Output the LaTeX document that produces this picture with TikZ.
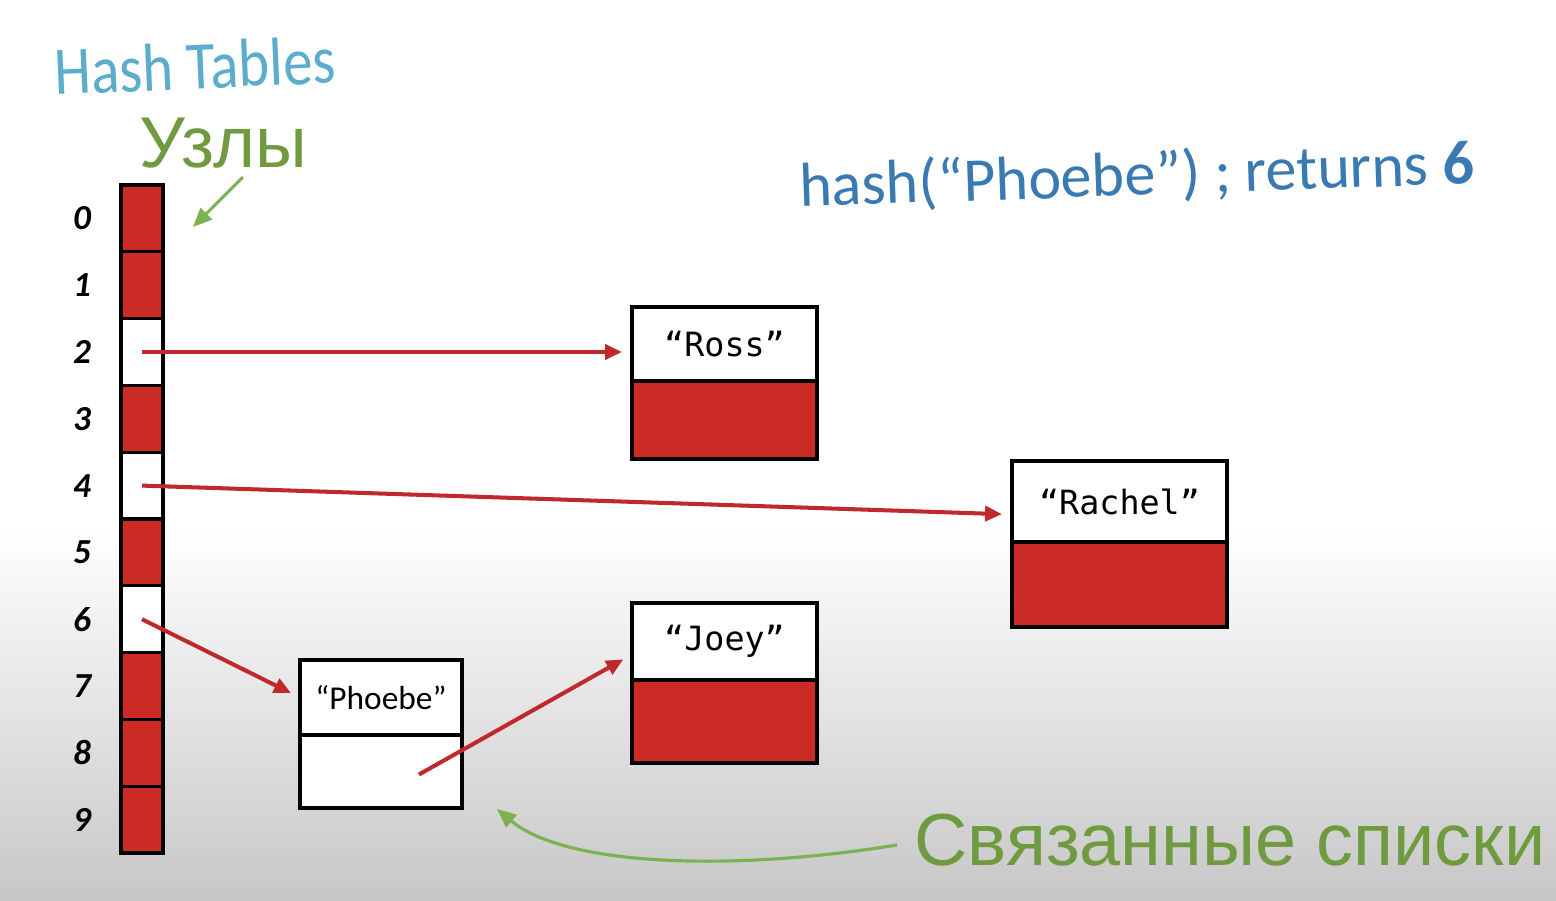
\documentclass[tikz,border=0pt]{standalone}
\usepackage{fontspec}
\setmainfont{Carlito}
\newfontfamily\arialf{Liberation Sans}
\newfontfamily\monof{DejaVu Sans Mono}
\newfontfamily\calf{Carlito}
\usetikzlibrary{arrows.meta,calc}
\definecolor{cellred}{RGB}{204,42,36}
\definecolor{arrred}{RGB}{192,40,44}
\definecolor{grn}{RGB}{112,154,64}
\definecolor{grnline}{RGB}{124,178,80}
\definecolor{titleblue}{RGB}{92,172,204}
\definecolor{codeblue}{RGB}{58,122,178}
\begin{document}
\begin{tikzpicture}[x=0.02cm,y=-0.02cm,
  cell/.style={draw=black,line width=1.9pt,minimum width=0.84cm,minimum height=1.336cm,inner sep=0pt,outer sep=0pt},
  idx/.style={font=\calf\bfseries\itshape\fontsize{20}{22}\selectfont,text=black},
  btop/.style={draw=black,fill=white,line width=2.1pt,inner sep=0pt,outer sep=0pt},
  bbot/.style={draw=black,fill=cellred,line width=2.1pt,inner sep=0pt,outer sep=0pt},
  mono/.style={font=\monof\fontsize{19}{22}\selectfont},
  redarr/.style={draw=arrred,line width=2.3pt,-{Triangle[length=0.34cm,width=0.3cm]},shorten >=0.2cm},
  grnarr/.style={draw=grnline,line width=1.8pt,-{Triangle[length=0.38cm,width=0.32cm]}},
  grntxt/.style={text=grn,inner sep=0pt}
]
\useasboundingbox (0,0) rectangle (1556,900);
\fill[white] (0,0) rectangle (1556,531);
\shade[top color=white,bottom color=black!22] (0,530) rectangle (1556,900);

% titles
\node[anchor=base west,rotate=2.5,text=titleblue,inner sep=0pt] (title) at (55,95)
  {\scalebox{0.97}[1.12]{\resizebox{5.8cm}{!}{\calf Hash Tables}}};
\node[anchor=base west,rotate=2,text=codeblue,inner sep=0pt] (code) at (800,207)
  {\resizebox{13.5cm}{!}{\calf hash(“Phoebe”) ; returns \textbf{6}}};

% hash table cells
\foreach \i/\c in {0/cellred,1/cellred,2/white,3/cellred,4/white,5/cellred,6/white,7/cellred,8/cellred,9/cellred}{
  \node[cell,fill=\c] (c\i) at (142,{218.4+66.8*\i}) {};
  \node[idx] (l\i) at (82,{218.4+66.8*\i}) {\i};
}

% list nodes
\node[btop,minimum width=3.7cm,minimum height=1.48cm,mono] (rossT) at (724.5,344) {“Ross”};
\node[bbot,minimum width=3.7cm,minimum height=1.56cm,anchor=north] (rossB) at (rossT.south) {};

\node[btop,minimum width=4.3cm,minimum height=1.62cm,mono] (rachT) at (1119.5,501.5) {“Rachel”};
\node[bbot,minimum width=4.3cm,minimum height=1.7cm,anchor=north] (rachB) at (rachT.south) {};

\node[btop,minimum width=3.7cm,minimum height=1.54cm,mono] (joeyT) at (724.5,641.5) {“Joey”};
\node[bbot,minimum width=3.7cm,minimum height=1.66cm,anchor=north] (joeyB) at (joeyT.south) {};

\node[btop,minimum width=3.24cm,minimum height=1.5cm,font=\calf\fontsize{19}{22}\selectfont] (phT) at (381,697.5) {“Phoebe”};
\node[btop,minimum width=3.24cm,minimum height=1.46cm,anchor=north] (phB) at (phT.south) {};

% red pointers
\draw[redarr] (c2.center) -- (rossT.west |- c2.center);
\draw[redarr] (c4.center) -- ($(rachT.west)+(0,13)$);
\draw[redarr] (c6.center) -- (phT.west);
\coordinate (phS) at ($(phB.center)+(38,3)$);
\draw[redarr] (phS) -- ($(joeyT.west)+(0,13)$);

% green annotations
\node[grntxt,anchor=base west,text height=0.72em,text depth=0pt,font=\arialf\fontsize{41}{48}\selectfont] (uzly) at (139,167) {Узлы};
\coordinate (uzS) at (243,177);
\coordinate (uzE) at (193,227);
\draw[grnarr] (uzS) -- (uzE);

\node[grntxt,anchor=base west,font=\arialf\fontsize{42}{50}\selectfont] (svl) at (914,865) {Связанные списки};
\coordinate (svS) at (897,845);
\coordinate (svE) at (497,809);
\draw[grnarr] (svS) .. controls (730,872) and (565,866) .. (svE);
\end{tikzpicture}
\end{document}
